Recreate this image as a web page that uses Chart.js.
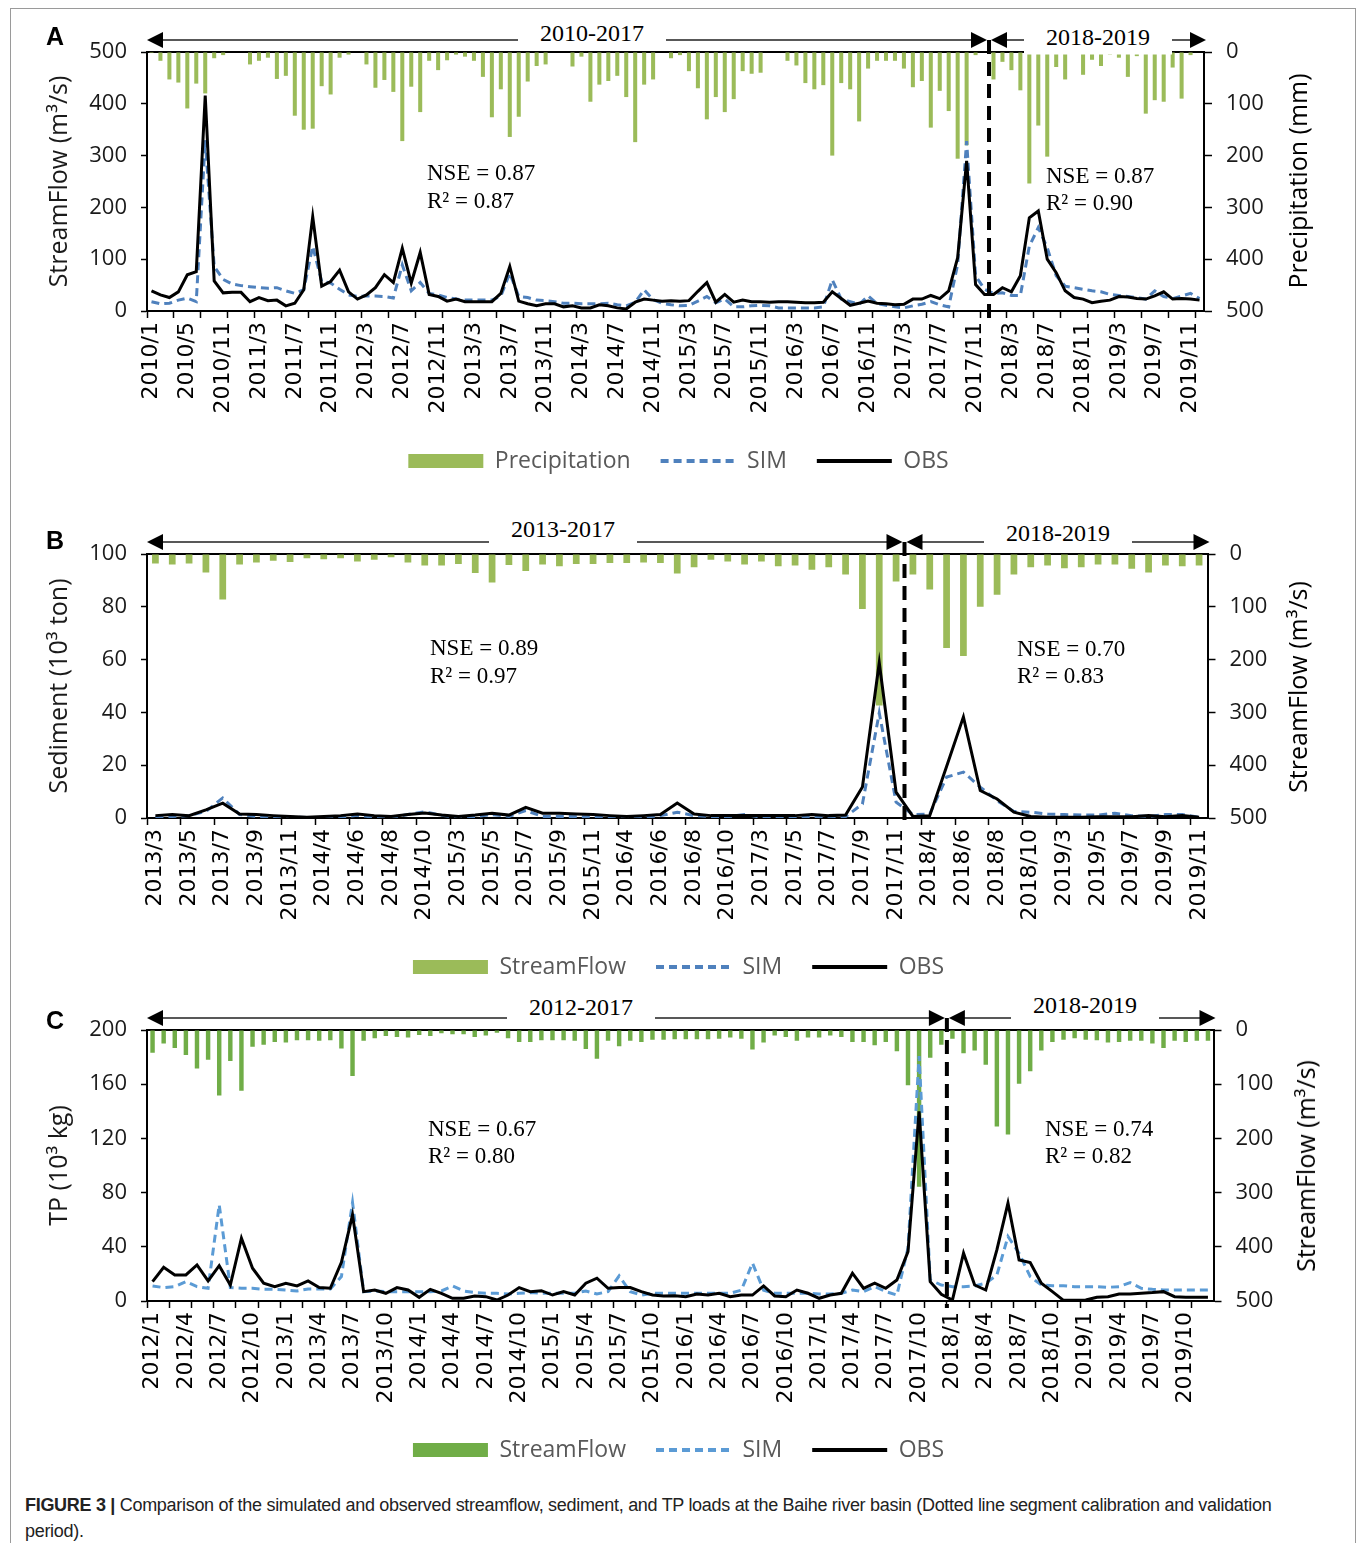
<!DOCTYPE html>
<html>
<head>
<meta charset="utf-8">
<script src="https://cdn.jsdelivr.net/npm/chart.js@4.4.1/dist/chart.umd.min.js"></script>
<style>
  html, body { margin: 0; padding: 0; background: #fff; }
  body { position: relative; width: 1357px; height: 1543px; overflow: hidden; }
  canvas { position: absolute; left: 0; }
  .frame { position: absolute; left: 10px; top: 8px; width: 1344px; height: 1600px; border: 1px solid #9a9a9a; }
  .lbl { position: absolute; white-space: nowrap; line-height: 1; transform: translate(-50%, -50%); }
  .panel { font: bold 25px "Liberation Sans", Arial, sans-serif; }
  .period { font: 24px "Liberation Serif", serif; background: #fff; padding: 4px 22px; }
  .stat { position: absolute; white-space: nowrap; line-height: 1; transform: translateY(-50%); font: 23px "Liberation Serif", serif; }
  .ytitle { font: 25px "Open Sans", sans-serif; transform: translate(-50%, -50%) rotate(-90deg); }
  .caption { position: absolute; left: 25px; top: 1492px; font: 18px "Liberation Sans", Arial, sans-serif; line-height: 26px; color: #222; white-space: nowrap; letter-spacing: -0.3px; }
</style>
</head>
<body>
<div class="frame"></div>
<canvas id="chartA" width="1357" height="500" style="top:0px"></canvas>
<canvas id="chartB" width="1357" height="500" style="top:500px"></canvas>
<canvas id="chartC" width="1357" height="495" style="top:985px"></canvas>

<div class="lbl panel" style="left:55px; top:36px">A</div>
<div class="lbl panel" style="left:55px; top:540px">B</div>
<div class="lbl panel" style="left:55px; top:1020px">C</div>

<div class="lbl period" style="left:592px; top:33px">2010-2017</div>
<div class="lbl period" style="left:1098px; top:37px">2018-2019</div>
<div class="lbl period" style="left:563px; top:529px">2013-2017</div>
<div class="lbl period" style="left:1058px; top:533px">2018-2019</div>
<div class="lbl period" style="left:581px; top:1007px">2012-2017</div>
<div class="lbl period" style="left:1085px; top:1005px">2018-2019</div>

<div class="stat" style="left:427px; top:173px">NSE = 0.87</div>
<div class="stat" style="left:427px; top:201px">R² = 0.87</div>
<div class="stat" style="left:1046px; top:176px">NSE = 0.87</div>
<div class="stat" style="left:1046px; top:203px">R² = 0.90</div>
<div class="stat" style="left:430px; top:648px">NSE = 0.89</div>
<div class="stat" style="left:430px; top:676px">R² = 0.97</div>
<div class="stat" style="left:1017px; top:649px">NSE = 0.70</div>
<div class="stat" style="left:1017px; top:676px">R² = 0.83</div>
<div class="stat" style="left:428px; top:1129px">NSE = 0.67</div>
<div class="stat" style="left:428px; top:1156px">R² = 0.80</div>
<div class="stat" style="left:1045px; top:1129px">NSE = 0.74</div>
<div class="stat" style="left:1045px; top:1156px">R² = 0.82</div>

<div class="lbl ytitle" style="left:1297px; top:181px">Precipitation (mm)</div>
<div class="lbl ytitle" style="left:1297px; top:687px">StreamFlow (m³/s)</div>
<div class="lbl ytitle" style="left:1305px; top:1166px">StreamFlow (m³/s)</div>

<div class="caption"><b>FIGURE 3 |</b> Comparison of the simulated and observed streamflow, sediment, and TP loads at the Baihe river basin (Dotted line segment calibration and validation<br>period).</div>

<script>
// ---- panel A: streamflow 2010-2019 (two months of 2010 missing in the source series)
const monthsA = [
  "2010/1","2010/2","2010/3","2010/4","2010/5","2010/6","2010/7","2010/8","2010/11","2010/12",
  "2011/1","2011/2","2011/3","2011/4","2011/5","2011/6","2011/7","2011/8","2011/9","2011/10","2011/11","2011/12",
  "2012/1","2012/2","2012/3","2012/4","2012/5","2012/6","2012/7","2012/8","2012/9","2012/10","2012/11","2012/12",
  "2013/1","2013/2","2013/3","2013/4","2013/5","2013/6","2013/7","2013/8","2013/9","2013/10","2013/11","2013/12",
  "2014/1","2014/2","2014/3","2014/4","2014/5","2014/6","2014/7","2014/8","2014/9","2014/10","2014/11","2014/12",
  "2015/1","2015/2","2015/3","2015/4","2015/5","2015/6","2015/7","2015/8","2015/9","2015/10","2015/11","2015/12",
  "2016/1","2016/2","2016/3","2016/4","2016/5","2016/6","2016/7","2016/8","2016/9","2016/10","2016/11","2016/12",
  "2017/1","2017/2","2017/3","2017/4","2017/5","2017/6","2017/7","2017/8","2017/9","2017/10","2017/11","2017/12",
  "2018/1","2018/2","2018/3","2018/4","2018/5","2018/6","2018/7","2018/8","2018/9","2018/10","2018/11","2018/12",
  "2019/1","2019/2","2019/3","2019/4","2019/5","2019/6","2019/7","2019/8","2019/9","2019/10","2019/11","2019/12"
];
const precipA = [
  2, 17, 53, 59, 109, 61, 80, 12, 6, 1,
  0, 24, 17, 11, 52, 46, 123, 150, 148, 66,
  82, 11, 5, 0, 24, 69, 54, 77, 172, 67,
  116, 17, 35, 16, 5, 9, 17, 48, 126, 72,
  164, 125, 57, 27, 24, 0, 0, 28, 9, 96,
  63, 56, 46, 87, 174, 63, 53, 0, 12, 6,
  37, 70, 130, 87, 116, 91, 37, 42, 40, 0,
  1, 17, 26, 60, 72, 64, 200, 60, 72, 134,
  32, 17, 17, 17, 32, 68, 56, 146, 75, 114,
  206, 180, 6, 0, 53, 19, 35, 74, 254, 142,
  202, 29, 53, 0, 44, 15, 27, 5, 11, 48,
  8, 119, 93, 96, 30, 90, 6, 1
];
const simA = [
  18, 14, 15, 21, 25, 18, 330, 86, 61, 52,
  49, 47, 45, 44, 45, 39, 34, 41, 125, 57,
  54, 42, 31, 28, 29, 29, 28, 25, 89, 39,
  55, 34, 31, 26, 23, 21, 21, 21, 21, 29,
  73, 28, 26, 21, 20, 18, 15, 15, 14, 14,
  14, 15, 12, 10, 17, 41, 22, 15, 12, 10,
  11, 19, 28, 16, 23, 8, 8, 10, 11, 10,
  6, 6, 6, 6, 6, 8, 60, 23, 18, 13,
  29, 14, 11, 8, 6, 10, 13, 18, 12, 8,
  90, 328, 68, 42, 34, 35, 30, 30, 125, 161,
  122, 68, 48, 45, 42, 39, 37, 32, 30, 28,
  26, 23, 39, 28, 24, 29, 34, 24
];
const obsA = [
  39, 31, 26, 37, 70, 76, 416, 58, 35, 36,
  36, 18, 26, 20, 21, 10, 15, 41, 182, 48,
  57, 79, 37, 23, 31, 45, 70, 55, 121, 54,
  113, 32, 28, 19, 23, 18, 18, 18, 18, 34,
  86, 19, 14, 10, 14, 14, 8, 10, 6, 6,
  12, 10, 6, 4, 17, 23, 21, 19, 20, 19,
  20, 38, 55, 17, 32, 17, 21, 18, 18, 17,
  18, 18, 17, 16, 16, 17, 37, 24, 11, 15,
  19, 15, 14, 12, 13, 23, 23, 30, 24, 39,
  103, 290, 51, 32, 32, 45, 37, 68, 180, 193,
  100, 74, 39, 26, 23, 16, 19, 21, 28, 27,
  24, 23, 29, 37, 23, 24, 23, 21
];

// ---- panel B: sediment, March-November of each year
const monthsB = [
  "2013/3","2013/4","2013/5","2013/6","2013/7","2013/8","2013/9","2013/10","2013/11",
  "2014/3","2014/4","2014/5","2014/6","2014/7","2014/8","2014/9","2014/10","2014/11",
  "2015/3","2015/4","2015/5","2015/6","2015/7","2015/8","2015/9","2015/10","2015/11",
  "2016/3","2016/4","2016/5","2016/6","2016/7","2016/8","2016/9","2016/10","2016/11",
  "2017/3","2017/4","2017/5","2017/6","2017/7","2017/8","2017/9","2017/10","2017/11",
  "2018/3","2018/4","2018/5","2018/6","2018/7","2018/8","2018/9","2018/10","2018/11",
  "2019/3","2019/4","2019/5","2019/6","2019/7","2019/8","2019/9","2019/10","2019/11"
];
const flowB = [
  18, 20, 18, 35, 86, 20, 16, 13, 15, 8,
  10, 8, 14, 11, 6, 16, 22, 22, 19, 36,
  54, 21, 32, 20, 23, 19, 19, 17, 17, 16,
  17, 37, 25, 11, 14, 20, 14, 23, 22, 30,
  25, 39, 104, 287, 52, 39, 67, 178, 193, 100,
  77, 39, 25, 22, 27, 25, 20, 20, 28, 35,
  22, 23, 22
];
const simB = [
  0.3, 0.6, 0.9, 2.5, 7.6, 1.3, 0.6, 0.3, 0.3, 0.2,
  0.2, 0.3, 1.0, 0.3, 0.2, 1.3, 2.4, 1.0, 0.3, 0.6,
  1.3, 0.6, 2.8, 0.6, 0.6, 0.5, 0.3, 0.3, 0.2, 0.3,
  0.9, 2.2, 0.9, 0.5, 0.5, 1.3, 0.3, 0.3, 0.3, 0.5,
  0.3, 0.5, 5.3, 39.8, 6.0, 1.3, 1.5, 15.5, 17.4, 11.7,
  6.6, 2.5, 2.2, 1.5, 1.3, 1.1, 1.1, 1.8, 0.9, 0.6,
  1.3, 1.3, 0.3
];
const obsB = [
  0.9, 1.3, 0.9, 3.1, 5.6, 1.5, 1.3, 0.9, 0.6, 0.3,
  0.6, 0.9, 1.5, 0.9, 0.6, 1.3, 1.9, 1.1, 0.6, 1.1,
  1.8, 1.1, 4.0, 1.8, 1.8, 1.5, 1.3, 0.9, 0.6, 0.9,
  1.3, 5.7, 1.5, 0.9, 0.9, 0.9, 0.9, 0.9, 0.9, 1.3,
  0.9, 1.1, 11.7, 58.8, 9.8, 0.6, 0.9, 19.5, 38.3, 10.4,
  7.2, 2.2, 0.6, 0.3, 0.3, 0.3, 0.5, 0.5, 0.5, 0.9,
  0.5, 0.9, 0.3
];

// ---- panel C: TP loads 2012-2019
const monthsC = [
  "2012/1","2012/2","2012/3","2012/4","2012/5","2012/6","2012/7","2012/8","2012/9","2012/10","2012/11","2012/12",
  "2013/1","2013/2","2013/3","2013/4","2013/5","2013/6","2013/7","2013/8","2013/9","2013/10","2013/11","2013/12",
  "2014/1","2014/2","2014/3","2014/4","2014/5","2014/6","2014/7","2014/8","2014/9","2014/10","2014/11","2014/12",
  "2015/1","2015/2","2015/3","2015/4","2015/5","2015/6","2015/7","2015/8","2015/9","2015/10","2015/11","2015/12",
  "2016/1","2016/2","2016/3","2016/4","2016/5","2016/6","2016/7","2016/8","2016/9","2016/10","2016/11","2016/12",
  "2017/1","2017/2","2017/3","2017/4","2017/5","2017/6","2017/7","2017/8","2017/9","2017/10","2017/11","2017/12",
  "2018/1","2018/2","2018/3","2018/4","2018/5","2018/6","2018/7","2018/8","2018/9","2018/10","2018/11","2018/12",
  "2019/1","2019/2","2019/3","2019/4","2019/5","2019/6","2019/7","2019/8","2019/9","2019/10","2019/11","2019/12"
];
const flowC = [
  42, 25, 33, 46, 71, 55, 121, 57, 112, 31,
  27, 22, 23, 19, 19, 20, 19, 34, 85, 20,
  15, 11, 13, 14, 9, 11, 6, 8, 8, 13,
  10, 5, 15, 22, 22, 19, 19, 19, 20, 35,
  53, 20, 30, 20, 22, 18, 18, 17, 17, 17,
  17, 16, 14, 16, 36, 23, 10, 13, 20, 14,
  14, 10, 13, 22, 22, 28, 22, 39, 102, 289,
  51, 27, 16, 43, 38, 64, 178, 193, 99, 76,
  38, 22, 18, 15, 18, 19, 23, 22, 20, 20,
  25, 33, 20, 22, 20, 20
];
const simC = [
  11.1, 9.9, 10.6, 14.3, 10.6, 9.4, 71, 9.9, 9.4, 9.4,
  8.6, 8.6, 8.1, 7.4, 8.9, 8.9, 8.9, 18, 72.7, 6.9,
  7.4, 6.9, 6.9, 6.9, 6.9, 6.9, 7.4, 11.1, 7.4, 6.2,
  5.7, 5.7, 5.2, 5.7, 6.2, 5.7, 5.7, 5.7, 5.7, 7.4,
  5.2, 6.9, 18.5, 6.9, 4.4, 5.7, 5.7, 5.7, 5.7, 5.7,
  5.7, 5.7, 5.7, 8.0, 28, 8.0, 5.7, 5.7, 5.7, 5.7,
  5.2, 5.2, 5.7, 8.1, 6.9, 10.6, 6.9, 4.4, 39, 180.8,
  15.5, 11.8, 10.6, 10.6, 11.1, 13.1, 19.2, 47.6, 35.3, 18,
  11.8, 11.3, 11.3, 10.6, 10.6, 10.6, 10.1, 10.6, 13.6, 9.4,
  8.6, 8.1, 8.1, 8.1, 8.1, 8.1
];
const obsC = [
  14.3, 24.9, 19.2, 19.2, 26.6, 14.8, 26.1, 11.8, 46.4, 24.2,
  13.1, 10.6, 13.1, 11.1, 14.8, 9.9, 9.4, 28.6, 63.6, 6.9,
  8.1, 5.7, 9.9, 8.1, 2.7, 8.6, 5.7, 2.0, 2.0, 3.7,
  3.2, 0.7, 4.4, 9.9, 6.9, 7.6, 4.4, 6.9, 4.4, 13.1,
  16.8, 9.4, 9.9, 9.9, 6.9, 4.4, 3.7, 3.9, 3.2, 5.2,
  4.4, 5.7, 3.2, 4.4, 4.4, 11.1, 3.7, 3.2, 8.1, 5.7,
  2.0, 4.4, 5.7, 20.5, 9.4, 13.1, 9.4, 15.5, 36.5, 140,
  14.3, 5.0, 0.7, 35.3, 11.8, 8.1, 37.7, 72.3, 30.3, 28.4,
  13.1, 6.9, 0.5, 0.5, 0.7, 2.7, 3.2, 5.2, 5.2, 5.7,
  6.2, 6.9, 3.2, 2.7, 2.7, 2.7
];

Chart.defaults.font.family = '"Open Sans", sans-serif';
Chart.defaults.color = "#000";

// calibration / validation arrows and the dashed split line
const periodArrows = {
  id: "periodArrows",
  afterDatasetsDraw(chart, args, opts) {
    const { ctx, chartArea: a, scales } = chart;
    const x = scales.x;
    const xs = (x.getPixelForValue(opts.split - 1) + x.getPixelForValue(opts.split)) / 2;
    const y = a.top - 12;
    const head = (tx, dir) => {
      ctx.beginPath();
      ctx.moveTo(tx, y);
      ctx.lineTo(tx - dir * 16, y - 8);
      ctx.lineTo(tx - dir * 16, y + 8);
      ctx.closePath();
      ctx.fill();
    };
    ctx.save();
    ctx.strokeStyle = "#222";
    ctx.fillStyle = "#000";
    ctx.lineWidth = 1.5;
    ctx.beginPath();
    ctx.moveTo(a.left + 10, y);
    ctx.lineTo(xs - 12, y);
    ctx.moveTo(xs + 12, y);
    ctx.lineTo(a.right - 10, y);
    ctx.stroke();
    head(a.left, -1);
    head(xs - 2, 1);
    head(xs + 2, -1);
    head(a.right + 2, 1);
    ctx.strokeStyle = "#000";
    ctx.lineWidth = 4;
    ctx.setLineDash([14, 8]);
    ctx.beginPath();
    ctx.moveTo(xs, y);
    ctx.lineTo(xs, a.bottom + 7);
    ctx.stroke();
    ctx.restore();
  },
};

function makePanel(canvasId, p) {
  const legendPad = 30;
  const legendTop = p.legendY - legendPad - 11.5;
  const xAxisH = legendTop - p.areaBottom;
  const padB = p.top + p.height - (p.legendY + 21.5);
  const tickCol = (c) => (c.index % p.tickEvery === 0 ? "#000" : "rgba(0,0,0,0)");

  return new Chart(document.getElementById(canvasId), {
    type: "bar",
    data: {
      labels: p.labels,
      datasets: [
        {
          type: "bar",
          label: p.barLabel,
          data: p.bars,
          yAxisID: "y2",
          backgroundColor: p.barColor,
          barPercentage: 1,
          categoryPercentage: p.barPct,
          order: 3,
        },
        {
          type: "line",
          label: "SIM",
          data: p.sim,
          yAxisID: "y",
          borderColor: p.simColor,
          borderWidth: 3,
          borderDash: [8, 5],
          pointRadius: 0,
          tension: 0,
          fill: false,
          order: 2,
        },
        {
          type: "line",
          label: "OBS",
          data: p.obs,
          yAxisID: "y",
          borderColor: "#000",
          borderWidth: 3,
          pointRadius: 0,
          tension: 0,
          fill: false,
          order: 1,
        },
      ],
    },
    options: {
      responsive: false,
      animation: false,
      layout: { padding: { top: p.areaTop - p.top, bottom: padB, left: 0, right: 0 } },
      plugins: {
        tooltip: { enabled: false },
        periodArrows: { split: p.split },
        legend: {
          position: "bottom",
          labels: {
            usePointStyle: true,
            pointStyleWidth: 75,
            boxHeight: 14,
            padding: legendPad,
            color: "#595959",
            font: { size: 23 },
            generateLabels: (chart) =>
              chart.data.datasets.map((ds, i) => ({
                text: ds.label,
                datasetIndex: i,
                hidden: false,
                fillStyle: ds.type === "bar" ? ds.backgroundColor : "rgba(0,0,0,0)",
                strokeStyle: ds.type === "bar" ? ds.backgroundColor : ds.borderColor,
                lineWidth: ds.type === "bar" ? 0 : 4,
                lineDash: ds.borderDash || [],
                pointStyle: ds.type === "bar" ? "rect" : "line",
                fontColor: "#595959",
              })),
          },
        },
      },
      scales: {
        x: {
          offset: true,
          grid: {
            offset: true,
            drawOnChartArea: false,
            tickLength: 7,
            tickWidth: 1.5,
            color: tickCol,
            tickColor: tickCol,
          },
          border: { color: "#000", width: 2 },
          ticks: {
            autoSkip: false,
            minRotation: 90,
            maxRotation: 90,
            padding: 4,
            color: "#000",
            font: { family: '"DejaVu Sans", sans-serif', size: 22 },
            callback: function (value, index) {
              return index % p.labelEvery === 0 ? this.getLabelForValue(value) : "";
            },
          },
          afterFit: (s) => { s.height = xAxisH; },
        },
        x2: {
          type: "category",
          position: "top",
          grid: { display: false },
          ticks: { display: false },
          border: { color: "#000", width: 2 },
          afterFit: (s) => { s.height = 0; },
        },
        y: {
          position: "left",
          min: 0,
          max: p.yMax,
          ticks: { stepSize: p.yStep, padding: 14, color: "#1a1a1a", font: { size: 22 } },
          grid: { drawOnChartArea: false, tickLength: 6, color: "#000", tickWidth: 1.5 },
          border: { color: "#000", width: 2 },
          title: {
            display: true,
            text: p.yTitle,
            color: "#1a1a1a",
            font: { size: 25 },
            padding: { top: 45, bottom: 0 },
          },
          afterFit: (s) => { s.width = p.areaLeft; },
        },
        y2: {
          position: "right",
          reverse: true,
          min: 0,
          max: 500,
          ticks: { stepSize: 100, padding: 14, color: "#1a1a1a", font: { size: 22 } },
          grid: { drawOnChartArea: false, tickLength: 8, color: "#000", tickWidth: 1.5 },
          border: { color: "#000", width: 2 },
          afterFit: (s) => { s.width = 1357 - p.areaRight; },
        },
      },
    },
    plugins: [periodArrows],
  });
}

makePanel("chartA", {
  top: 0, height: 500, areaTop: 52, areaBottom: 311, areaLeft: 147, areaRight: 1204, legendY: 461,
  labels: monthsA, bars: precipA, sim: simA, obs: obsA,
  barLabel: "Precipitation", barColor: "#9bbb59", simColor: "#4f81bd", barPct: 0.45,
  yMax: 500, yStep: 100, yTitle: "StreamFlow (m³/s)",
  labelEvery: 4, tickEvery: 3, split: 94,
});

makePanel("chartB", {
  top: 500, height: 500, areaTop: 554, areaBottom: 818, areaLeft: 147, areaRight: 1207.5, legendY: 967,
  labels: monthsB, bars: flowB, sim: simB, obs: obsB,
  barLabel: "StreamFlow", barColor: "#9bbb59", simColor: "#4f81bd", barPct: 0.4,
  yMax: 100, yStep: 20, yTitle: "Sediment (10³ ton)",
  labelEvery: 2, tickEvery: 2, split: 45,
});

makePanel("chartC", {
  top: 985, height: 495, areaTop: 1030, areaBottom: 1301, areaLeft: 147, areaRight: 1213.5, legendY: 1450,
  labels: monthsC, bars: flowC, sim: simC, obs: obsC,
  barLabel: "StreamFlow", barColor: "#70ad47", simColor: "#5b9bd5", barPct: 0.4,
  yMax: 200, yStep: 40, yTitle: "TP (10³ kg)",
  labelEvery: 3, tickEvery: 2, split: 72,
});
</script>
</body>
</html>
